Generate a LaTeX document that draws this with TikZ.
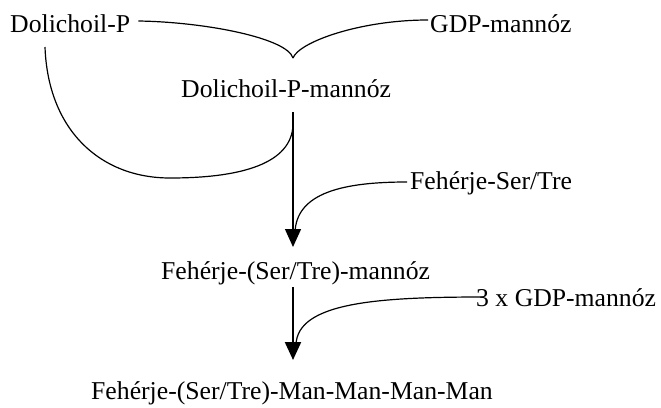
\documentclass[tikz,border=0pt]{standalone}
\usepackage{fontspec}
\setmainfont{Liberation Serif}
\usetikzlibrary{arrows.meta}
\begin{document}
\begin{tikzpicture}[x=1pt,y=-1pt,
  lbl/.style={anchor=base west,inner sep=0pt,font=\fontsize{25.7}{30}\selectfont},
  link/.style={line width=1.2pt},
  flow/.style={-{Triangle[width=16pt,length=18pt]}}]
\useasboundingbox[fill=white] (0,0) rectangle (661,407);

% compounds
\node[lbl] (dolp)  at (10,32)  {Dolichoil-P};
\node[lbl] (gdp)   at (430,32) {GDP-mannóz};
\node[lbl] (dpm)   at (181,97) {Dolichoil-P-mannóz};
\node[lbl] (prot)  at (410,189) {Fehérje-Ser/Tre};
\node[lbl] (pman)  at (161,279) {Fehérje-(Ser/Tre)-mannóz};
\node[lbl] (gdp3)  at (476,306) {3 x GDP-mannóz};
\node[lbl] (final) at (91,399) {Fehérje-(Ser/Tre)-Man-Man-Man-Man};

% junction points
\coordinate (cusp)  at (293,58);
\coordinate (a1top) at (293,112);
\coordinate (a1tip) at (293,247);
\coordinate (a2top) at (293,287);
\coordinate (a2tip) at (293,360);

% first step: Dolichoil-P + GDP-mannóz
\draw[link] (dolp.east |- 0,21) ++(8,0) .. controls (205,22) and (287,38) .. (cusp);
\draw[link] (gdp.west |- 0,20) ++(-2,0) .. controls (360,20) and (299,42) .. (cusp);

% Dolichoil-P recycled
\draw[link] (45,47) .. controls (48,130) and (100,178) .. (170,178)
  .. controls (250,178) and (294,160) .. (293,122);

% transfer to the protein
\draw[flow,line width=1.4pt] (a1top) -- (a1tip);
\draw[link] (prot.west |- 0,182) ++(-3,0) .. controls (345,182) and (295,192) .. (295,234);

% further mannosylation
\draw[flow,line width=2.2pt] (a2top) -- (a2tip);
\draw[link] (gdp3.west |- 0,297) ++(8,0) .. controls (380,297) and (297,302) .. (296,345);
\end{tikzpicture}
\end{document}
